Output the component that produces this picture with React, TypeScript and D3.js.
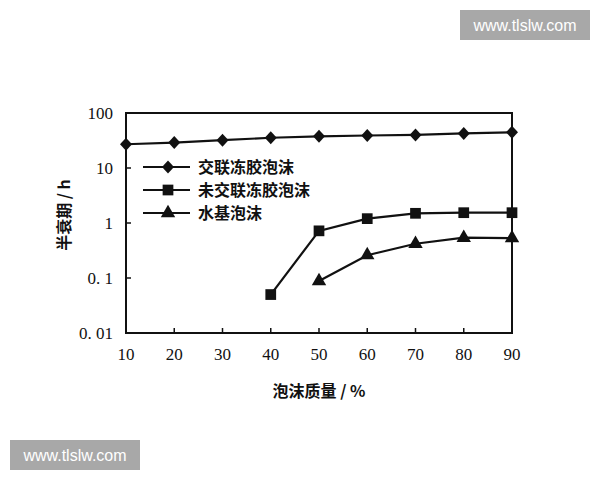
import * as d3 from 'd3';

const foamQuality = [10, 20, 30, 40, 50, 60, 70, 80, 90];
const crosslinked = [27, 29, 32, 35.5, 37.7, 39, 40, 42.5, 44.7];
const uncrosslinkedX = [40, 50, 60, 70, 80, 90];
const uncrosslinked = [0.05, 0.72, 1.2, 1.5, 1.54, 1.54];
const waterBasedX = [50, 60, 70, 80, 90];
const waterBased = [0.088, 0.26, 0.42, 0.54, 0.53];

const seriesNames = ['交联冻胶泡沫', '未交联冻胶泡沫', '水基泡沫'];
const yTicks = [0.01, 0.1, 1, 10, 100];
const yTickLabels = ['0. 01', '0. 1', '1', '10', '100'];

const width = 600;
const height = 480;
const margin = { top: 113, right: 88, bottom: 147, left: 126 };

type Marker = 'diamond' | 'square' | 'triangle';

// diamond drawn as a rotated square-ish shape, close to the scanned figure
const diamondPath = 'M0,-6.5L6,0L0,6.5L-6,0Z';

function markerPath(kind: Marker) {
  if (kind === 'diamond') return diamondPath;
  const sym = kind === 'square' ? d3.symbolSquare : d3.symbolTriangle;
  const size = kind === 'square' ? 115 : 90;
  return d3.symbol().type(sym).size(size)() as string;
}

export default function App() {
  const x = d3.scaleLinear().domain([10, 90]).range([margin.left, width - margin.right]);
  const y = d3.scaleLog().domain([0.01, 100]).range([height - margin.bottom, margin.top]);

  const line = d3
    .line<[number, number]>()
    .x((d) => x(d[0]))
    .y((d) => y(d[1]));

  const series: { name: string; pts: [number, number][]; marker: Marker }[] = [
    { name: seriesNames[0], pts: foamQuality.map((v, i) => [v, crosslinked[i]]), marker: 'diamond' },
    { name: seriesNames[1], pts: uncrosslinkedX.map((v, i) => [v, uncrosslinked[i]]), marker: 'square' },
    { name: seriesNames[2], pts: waterBasedX.map((v, i) => [v, waterBased[i]]), marker: 'triangle' },
  ];

  const serif = '"Liberation Serif", "DejaVu Serif", serif';
  const cjk = '"Noto Sans CJK SC", sans-serif';
  const [x0, x1] = x.range();
  const [yb, yt] = y.range();

  return (
    <svg
      width={width}
      height={height}
      style={{ position: 'absolute', left: 0, top: 0, background: '#fff' }}
    >
      {/* watermarks */}
      <rect x={460} y={10} width={130} height={30} fill="#a8a8a8" />
      <text x={525} y={31} textAnchor="middle" fill="#fff" fontSize={16} fontFamily="Arial, 'Liberation Sans', sans-serif">
        www.tlslw.com
      </text>
      <rect x={10} y={440} width={130} height={30} fill="#a8a8a8" />
      <text x={75} y={461} textAnchor="middle" fill="#fff" fontSize={16} fontFamily="Arial, 'Liberation Sans', sans-serif">
        www.tlslw.com
      </text>

      {/* frame */}
      <rect x={x0} y={yt} width={x1 - x0} height={yb - yt} fill="none" stroke="#111" strokeWidth={2} />

      {/* x ticks */}
      {foamQuality.map((v) => (
        <g key={'xt' + v}>
          {v > 10 && v < 90 && <line x1={x(v)} x2={x(v)} y1={yb} y2={yb - 5} stroke="#111" strokeWidth={1.5} />}
          <text x={x(v)} y={yb + 27} textAnchor="middle" fontSize={17} fontFamily={serif} fill="#111">
            {v}
          </text>
        </g>
      ))}

      {/* y ticks */}
      {yTicks.map((v, i) => (
        <g key={'yt' + v}>
          {i > 0 && i < yTicks.length - 1 && (
            <line x1={x0} x2={x0 + 5} y1={y(v)} y2={y(v)} stroke="#111" strokeWidth={1.5} />
          )}
          <text x={x0 - 13} y={y(v) + 6} textAnchor="end" fontSize={17} fontFamily={serif} fill="#111">
            {yTickLabels[i]}
          </text>
        </g>
      ))}

      {/* axis titles */}
      <text
        transform={`translate(70, ${(yt + yb) / 2 - 8}) rotate(-90)`}
        textAnchor="middle"
        fontSize={16}
        fontWeight="bold"
        fontFamily={cjk}
        fill="#111"
      >
        半衰期 / h
      </text>
      <text x={(x0 + x1) / 2} y={yb + 64} textAnchor="middle" fontSize={16} fontWeight="bold" fontFamily={cjk} fill="#111">
        泡沫质量 / %
      </text>

      {/* series */}
      {series.map((s) => (
        <g key={s.name}>
          <path d={line(s.pts) as string} fill="none" stroke="#111" strokeWidth={2.2} />
          {s.pts.map((p, j) => (
            <path key={j} d={markerPath(s.marker)} transform={`translate(${x(p[0])},${y(p[1])})`} fill="#111" />
          ))}
        </g>
      ))}

      {/* legend */}
      {series.map((s, i) => {
        const ly = 167 + i * 23;
        return (
          <g key={'lg' + s.name}>
            <line x1={143} x2={190} y1={ly} y2={ly} stroke="#111" strokeWidth={2.2} />
            <path d={markerPath(s.marker)} transform={`translate(168,${ly})`} fill="#111" />
            <text x={198} y={ly + 6} fontSize={16} fontWeight="bold" fontFamily={cjk} fill="#111">
              {s.name}
            </text>
          </g>
        );
      })}
    </svg>
  );
}
